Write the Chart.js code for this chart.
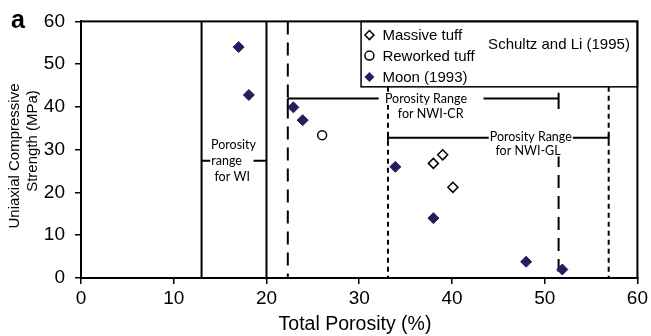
<!DOCTYPE html>
<html>
<head>
<meta charset="utf-8">
<script src="https://cdn.jsdelivr.net/npm/chart.js@4.4.1/dist/chart.umd.min.js"></script>
<style>
  html, body { margin: 0; padding: 0; background: #fff; }
  #wrap { width: 651px; height: 336px; }
</style>
</head>
<body>
<div id="wrap"><canvas id="plot"></canvas></div>
<script>
// data
const moonPorosity = [17, 18.1, 22.9, 23.9, 33.9, 38, 48, 51.9];
const moonStrength = [54, 42.8, 39.9, 36.9, 26, 14, 3.8, 2];
const massivePorosity = [38, 39, 40.1];
const massiveStrength = [26.8, 28.8, 21.2];
const reworkedPorosity = [26];
const reworkedStrength = [33.4];

// porosity ranges
const wiRange = [13, 20];
const nwiCrRange = [22.3, 51.5];
const nwiGlRange = [33.1, 56.9];

const xTicks = [0, 10, 20, 30, 40, 50, 60];
const yTicks = [0, 10, 20, 30, 40, 50, 60];

const FONT = "'Liberation Sans', Arial, sans-serif";
const NOTE_FONT = "Lato, 'Noto Sans', sans-serif";
const NAVY = '#261d5e';

function points(xs, ys) {
    return xs.map((x, i) => ({x: x, y: ys[i]}));
}

function line(xs, ys, dash, width) {
    return {
        data: points(xs, ys),
        showLine: true,
        pointRadius: 0,
        borderColor: '#000',
        borderWidth: width || 2,
        borderDash: dash || [],
        spanGaps: false,
    };
}

const longDash = [13, 8];
const shortDash = [5, 4];

const datasets = [
    {
        label: 'Massive tuff',
        data: points(massivePorosity, massiveStrength),
        pointStyle: 'rectRot',
        pointRadius: 5,
        backgroundColor: '#fff',
        borderColor: '#000',
        borderWidth: 1.5,
    },
    {
        label: 'Reworked tuff',
        data: points(reworkedPorosity, reworkedStrength),
        pointStyle: 'circle',
        pointRadius: 4.5,
        backgroundColor: '#fff',
        borderColor: '#000',
        borderWidth: 1.5,
    },
    {
        label: 'Moon (1993)',
        data: points(moonPorosity, moonStrength),
        pointStyle: 'rectRot',
        pointRadius: 5.5,
        backgroundColor: NAVY,
        borderColor: NAVY,
        borderWidth: 1,
    },
    // WI range
    line([wiRange[0], wiRange[0]], [0, 60]),
    line([wiRange[1], wiRange[1]], [0, 60]),
    line([wiRange[0], 14.2, 14.2, 18.6, 18.6, wiRange[1]], [27.4, 27.4, null, null, 27.4, 27.4]),
    // NWI-CR range
    line([nwiCrRange[0], nwiCrRange[0]], [60, 0], longDash),
    line([nwiCrRange[1], nwiCrRange[1]], [29, 0], longDash),
    line([nwiCrRange[0], 32.1, 32.1, 43.4, 43.4, nwiCrRange[1]], [42, 42, null, null, 42, 42]),
    line([nwiCrRange[0], nwiCrRange[0]], [42, 39.8]),
    line([nwiCrRange[1], nwiCrRange[1]], [43.3, 39.5]),
    // NWI-GL range
    line([nwiGlRange[0], nwiGlRange[0]], [44.7, 0], shortDash),
    line([nwiGlRange[1], nwiGlRange[1]], [44.7, 0], shortDash),
    line([nwiGlRange[0], 44.0, 44.0, 52.9, 52.9, nwiGlRange[1]], [32.8, 32.8, null, null, 32.8, 32.8]),
    line([nwiGlRange[0], nwiGlRange[0]], [33.5, 32.1]),
    line([nwiGlRange[1], nwiGlRange[1]], [33.5, 32.1]),
];

const notes = [
    {text: 'Porosity', x: 16.45, y: 31.2},
    {text: 'range', x: 15.7, y: 27.4},
    {text: 'for WI', x: 16.3, y: 23.7},
    {text: 'Porosity Range', x: 37.2, y: 41.9},
    {text: 'for NWI-CR', x: 37.7, y: 38.4},
    {text: 'Porosity Range', x: 48.5, y: 33.0},
    {text: 'for NWI-GL', x: 48.2, y: 29.8},
];

const legendRows = [
    {text: 'Massive tuff', style: 'diamond-open', y: 56.8},
    {text: 'Reworked tuff', style: 'circle', y: 52.0},
    {text: 'Moon (1993)', style: 'diamond', y: 47.0},
];

const decorations = {
    id: 'decorations',
    afterDatasetsDraw(chart) {
        const ctx = chart.ctx;
        const xs = chart.scales.x;
        const ys = chart.scales.y;
        const area = chart.chartArea;
        ctx.save();

        // notes with white background
        ctx.font = '12.5px ' + NOTE_FONT;
        ctx.textAlign = 'center';
        ctx.textBaseline = 'middle';
        notes.forEach(n => {
            const px = xs.getPixelForValue(n.x);
            const py = ys.getPixelForValue(n.y);
            const w = ctx.measureText(n.text).width;
            ctx.fillStyle = '#fff';
            ctx.fillRect(px - w / 2 - 1, py - 6, w + 2, 12);
            ctx.fillStyle = '#000';
            ctx.fillText(n.text, px, py);
        });

        // legend box
        const lx = xs.getPixelForValue(30.2);
        const ly = ys.getPixelForValue(44.7);
        ctx.fillStyle = '#fff';
        ctx.fillRect(lx, area.top, area.right - lx, ly - area.top);
        ctx.strokeStyle = '#000';
        ctx.lineWidth = 1.5;
        ctx.strokeRect(lx, area.top, area.right - lx, ly - area.top);

        ctx.font = '15px ' + FONT;
        ctx.textAlign = 'left';
        legendRows.forEach(r => {
            const mx = xs.getPixelForValue(31.1);
            const my = ys.getPixelForValue(r.y);
            ctx.beginPath();
            if (r.style === 'circle') {
                ctx.arc(mx, my, 4.5, 0, Math.PI * 2);
            } else {
                const s = r.style === 'diamond' ? 5 : 4.5;
                ctx.moveTo(mx, my - s);
                ctx.lineTo(mx + s, my);
                ctx.lineTo(mx, my + s);
                ctx.lineTo(mx - s, my);
                ctx.closePath();
            }
            if (r.style === 'diamond') {
                ctx.fillStyle = NAVY;
                ctx.fill();
            } else {
                ctx.fillStyle = '#fff';
                ctx.fill();
                ctx.lineWidth = 1.5;
                ctx.strokeStyle = '#000';
                ctx.stroke();
            }
            ctx.fillStyle = '#000';
            ctx.fillText(r.text, mx + 13, my + 1);
        });
        ctx.fillText('Schultz and Li (1995)', xs.getPixelForValue(43.9), ys.getPixelForValue(54.6));

        // frame
        ctx.strokeStyle = '#000';
        ctx.lineWidth = 2;
        ctx.strokeRect(area.left, area.top, area.right - area.left, area.bottom - area.top);

        // axis titles and panel letter
        ctx.fillStyle = '#000';
        ctx.textAlign = 'center';
        ctx.font = '19.5px ' + FONT;
        ctx.fillText('Total Porosity (%)', 355, 325);

        ctx.font = '15px ' + FONT;
        ctx.save();
        ctx.translate(15, 156);
        ctx.rotate(-Math.PI / 2);
        ctx.fillText('Uniaxial Compressive', 0, 0);
        ctx.restore();
        ctx.save();
        ctx.translate(33, 141);
        ctx.rotate(-Math.PI / 2);
        ctx.fillText('Strength (MPa)', 0, 0);
        ctx.restore();

        ctx.font = 'bold 25px ' + FONT;
        ctx.textAlign = 'left';
        ctx.textBaseline = 'alphabetic';
        ctx.fillText('a', 11, 28);
        ctx.restore();
    }
};

new Chart(document.getElementById('plot'), {
    type: 'scatter',
    data: {datasets: datasets},
    options: {
        responsive: true,
        maintainAspectRatio: false,
        animation: false,
        layout: {padding: {top: 20, right: 12, left: 0, bottom: 0}},
        plugins: {
            legend: {display: false},
            tooltip: {enabled: false},
        },
        scales: {
            x: {
                type: 'linear',
                min: 0,
                max: 60,
                afterFit: s => { s.height = 58; },
                afterBuildTicks: s => { s.ticks = xTicks.map(v => ({value: v})); },
                grid: {drawOnChartArea: false, drawTicks: true, tickLength: 6, color: '#000', lineWidth: 1.5},
                border: {display: true, color: '#000', width: 2},
                ticks: {color: '#000', font: {family: FONT, size: 19}, padding: 3, maxRotation: 0},
            },
            y: {
                type: 'linear',
                min: 0,
                max: 60,
                afterFit: s => { s.width = 81; },
                afterBuildTicks: s => { s.ticks = yTicks.map(v => ({value: v})); },
                grid: {drawOnChartArea: false, drawTicks: true, tickLength: 6, color: '#000', lineWidth: 1.5},
                border: {display: true, color: '#000', width: 2},
                ticks: {color: '#000', font: {family: FONT, size: 19}, padding: 10},
            },
        },
    },
    plugins: [decorations],
});
</script>
</body>
</html>
